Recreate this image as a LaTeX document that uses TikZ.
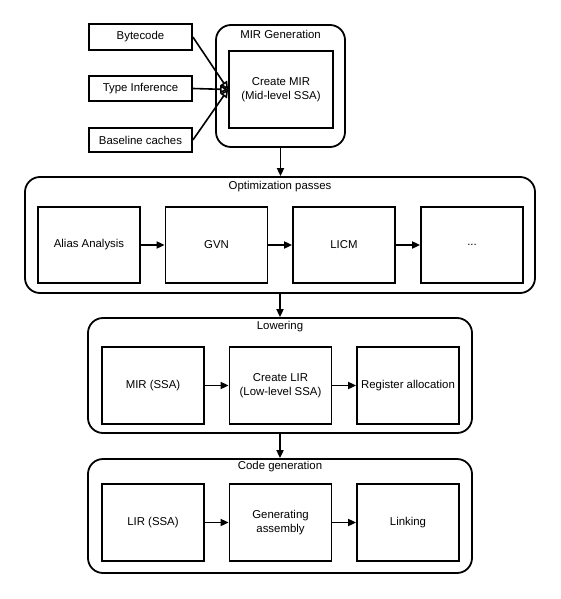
\documentclass[tikz,border=0pt]{standalone}
\usepackage{fontspec}
\setmainfont{Liberation Sans}
\usetikzlibrary{arrows.meta}
\tikzset{
    every node/.style={font=\fontsize{11.4}{13.5}\selectfont, align=center, inner sep=1pt}
}
\tikzset{
    stage/.style={rectangle, draw, line width=1.8pt, minimum width=102pt, minimum height=77pt},
    src/.style={rectangle, draw, line width=1.8pt, minimum width=103pt, minimum height=25pt},
    group/.style={rectangle, draw, line width=1.8pt, rounded corners=15pt},
    title/.style={draw=none, fill=none},
    flow/.style={line width=1.8pt, -{Triangle[length=8pt,width=7pt]}},
    feed/.style={line width=1.6pt, -{Triangle[open,length=8pt,width=8pt]}}
}

\begin{document}
\begin{tikzpicture}[x=1pt, y=-1pt]
  \useasboundingbox (0,0) rectangle (561,599);
  % the four stages
  \node (mirgen) [group, minimum width=129pt, minimum height=122pt] at (280.5,86) {};
  \node (opt) [group, minimum width=510pt, minimum height=116pt] at (280,235) {};
  \node (low) [group, minimum width=384pt, minimum height=115pt] at (280,375.5) {};
  \node (cgen) [group, minimum width=384pt, minimum height=114pt] at (280,516) {};

  \node (tmirgen) [title] at (280.5,34) {MIR Generation};
  \node (topt) [title] at (280,187) {Optimization passes};
  \node (tlow) [title] at (280,327) {Lowering};
  \node (tcgen) [title] at (280,467) {Code generation};

  % inputs
  \node (byte) [src, minimum height=26pt] at (140.5,37) {Bytecode};
  \node (tinf) [src] at (140.5,88.5) {Type Inference};
  \node (base) [src, minimum height=24pt] at (140.5,140) {Baseline caches};
  \node (mir) [stage, minimum width=104pt] at (281,89.5) {Create MIR\\(Mid-level SSA)};

  % optimization passes
  \node (alias) [stage, minimum height=76pt] at (89,245) {Alias Analysis};
  \node (gvn) [stage, minimum height=76pt] at (216.5,245) {GVN};
  \node (licm) [stage, minimum height=76pt] at (344,245) {LICM};
  \node (more) [stage, minimum height=76pt] at (472,245) {...};

  % lowering
  \node (mirssa) [stage] at (153,385.5) {MIR (SSA)};
  \node (lir) [stage] at (280.5,385.5) {Create LIR\\(Low-level SSA)};
  \node (regalloc) [stage] at (408,385.5) {Register allocation};

  % code generation
  \node (lirssa) [stage] at (153,522.5) {LIR (SSA)};
  \node (asm) [stage] at (280.5,522.5) {Generating\\assembly};
  \node (link) [stage] at (408,522.5) {Linking};

  \draw [feed] (byte.east) -- (mir.west);
  \draw [feed] (tinf.east) -- (mir.west);
  \draw [feed] (base.east) -- (mir.west);

  \draw [flow] (mirgen.south) -- (mirgen.south |- opt.north);
  \draw [flow] (opt.south) -- (low.north);
  \draw [flow] (low.south) -- (cgen.north);

  \draw [flow] (alias) -- (gvn);
  \draw [flow] (gvn) -- (licm);
  \draw [flow] (licm) -- (more);
  \draw [flow] (mirssa) -- (lir);
  \draw [flow] (lir) -- (regalloc);
  \draw [flow] (lirssa) -- (asm);
  \draw [flow] (asm) -- (link);
\end{tikzpicture}
\end{document}
